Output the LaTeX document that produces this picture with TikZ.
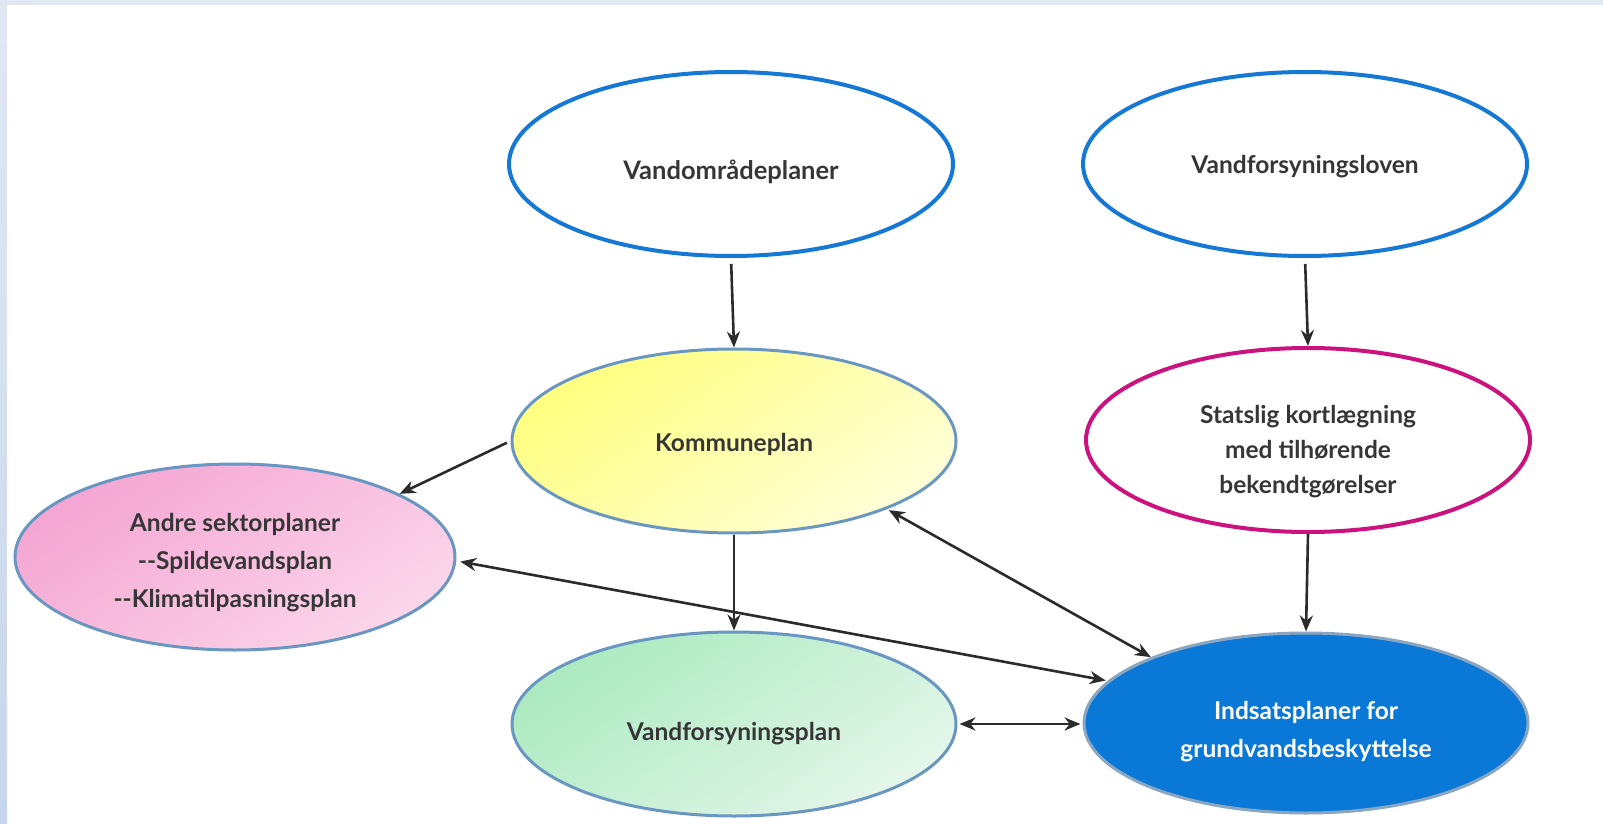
\documentclass[tikz,border=0pt]{standalone}
\usepackage{fontspec}
\setmainfont{Lato}
\usetikzlibrary{shapes.geometric,arrows.meta}
\definecolor{bgtop}{HTML}{E2E8F3}
\definecolor{bgbot}{HTML}{C6D6EC}
\definecolor{topblue}{HTML}{1478D4}
\definecolor{steel}{HTML}{6A97C2}
\definecolor{magent}{HTML}{CC127E}
\definecolor{indblue}{HTML}{0A78D6}
\definecolor{indedge}{HTML}{8AA6C0}
\definecolor{txt}{HTML}{363636}
\definecolor{arr}{HTML}{2B2B2B}
\definecolor{yelA}{HTML}{FFFF80}
\definecolor{yelB}{HTML}{FFFFD8}
\definecolor{pinkA}{HTML}{F4A6D2}
\definecolor{pinkB}{HTML}{FBD6EA}
\definecolor{grnA}{HTML}{ACEAC0}
\definecolor{grnB}{HTML}{E4F6EA}
\newcommand{\topgap}[1]{\rule{0pt}{#1}}
\begin{document}
\begin{tikzpicture}[x=1pt,y=-1pt,
  ell/.style={ellipse, minimum width=444pt, minimum height=184pt, inner sep=0pt,
    align=center, text=txt, font=\bfseries\fontsize{24.5}{36}\selectfont},
  textdrop/.style={execute at begin node={\rule{0pt}{#1}}},
  topell/.style={ell, draw=topblue, line width=4pt, fill=white},
  softell/.style={ell, draw=steel, line width=3pt},
  link/.style={draw=arr, line width=2.6pt, -{Stealth[length=16pt,width=13pt]}},
  blink/.style={draw=arr, line width=2.6pt, {Stealth[length=16pt,width=13pt]}-{Stealth[length=16pt,width=13pt]}}]
\useasboundingbox (0,0) rectangle (1603,824);
\shade[top color=bgtop, bottom color=bgbot] (0,0) rectangle (1603,824);
\fill[bgtop] (0,0) rectangle (1603,5);
\fill[white] (7,5) rectangle (1603,824);

\node[topell, textdrop=35pt, font=\bfseries\fontsize{25.5}{36}\selectfont] (vo) at (731,164) {Vandområdeplaner};
\node[topell, textdrop=23pt] (vl) at (1305,164) {Vandforsyningsloven};
\node[softell, textdrop=25pt, top color=yelA, bottom color=yelB, shading angle=35] (kp) at (734,441) {Kommuneplan};
\node[ell, draw=magent, line width=4pt, fill=white, font=\bfseries\fontsize{24.5}{35}\selectfont] (sk) at (1308,440) {\topgap{41pt}Statslig kortlægning\\med tilhørende\\bekendtgørelser};
\node[softell, minimum width=440pt, minimum height=186pt, top color=pinkA, bottom color=pinkB, shading angle=35, font=\bfseries\fontsize{24.5}{38}\selectfont] (as) at (235,557) {\topgap{30pt}Andre sektorplaner\\{-}{-}Spildevandsplan\\{-}{-}Klimatilpasningsplan};
\node[softell, textdrop=37pt, top color=grnA, bottom color=grnB, shading angle=35] (vp) at (734,724) {Vandforsyningsplan};
\node[ell, draw=indedge, line width=3pt, fill=indblue, text=white, minimum height=180pt, font=\bfseries\fontsize{24.5}{38}\selectfont] (ip) at (1306,723) {\topgap{36pt}Indsatsplaner for\\grundvandsbeskyttelse};

\draw[link, shorten <=6pt] (vo.south) -- (kp.north);
\draw[link, shorten <=6pt] (vl.south) -- (sk.north);
\draw[link] (kp.south) -- (vp.north);
\draw[link] (sk.south) -- (ip.north);
\draw[link, shorten <=4pt] (kp.west) -- (as.21.6);
\draw[blink, shorten <=2pt] (kp.-24) -- (ip.157.7);
\draw[blink, shorten <=4pt, shorten >=2pt] (as.-1) -- (ip.168.7);
\draw[blink, shorten <=2pt, shorten >=2pt] (vp.east) -- (vp.east -| ip.west);
\end{tikzpicture}
\end{document}
